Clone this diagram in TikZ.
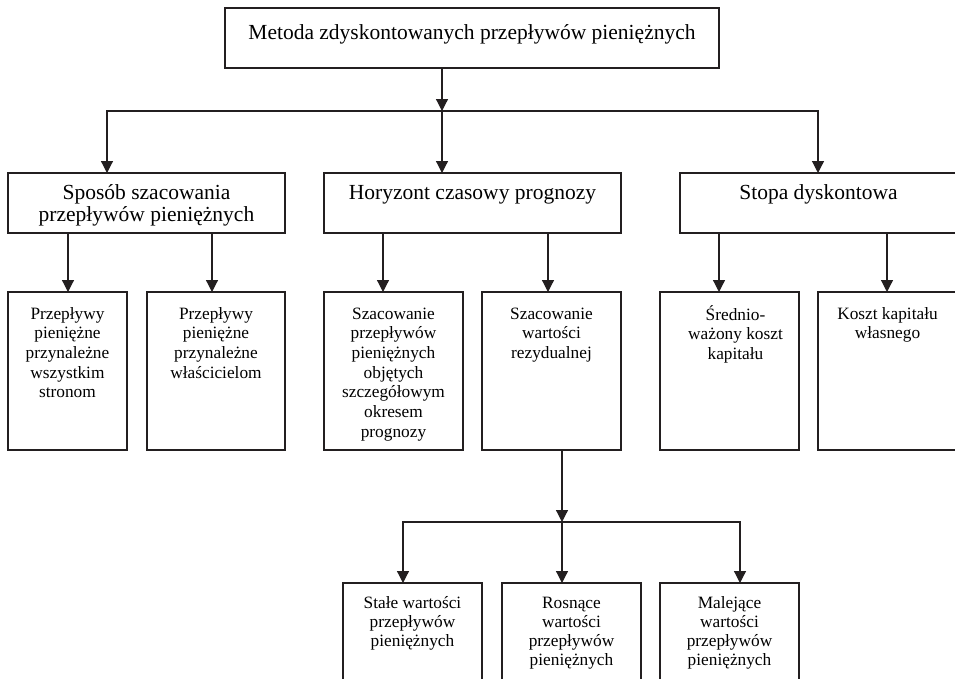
\documentclass[tikz,border=0pt]{standalone}
\usepackage{fontspec}
\setmainfont{Liberation Serif}
\usetikzlibrary{arrows.meta}
\newcommand{\fbig}{\fontsize{21.5}{22}\selectfont}
\newcommand{\fsmall}{\fontsize{17.3}{19.7}\selectfont}
\newcommand{\fsmaller}{\fontsize{17.3}{19.3}\selectfont}
% #1 width, #2 height, #3 first baseline offset, #4 font, #5 text
\newcommand{\bt}[5]{\parbox[c][#2pt][t]{#1pt}{#4\vspace*{\dimexpr #3pt-\ht\strutbox\relax}\centering\strut #5\par}}
\definecolor{ink}{HTML}{231F20}
\tikzset{
  bx/.style={draw=ink, line width=1.2pt, inner sep=0pt, outer sep=0pt, anchor=north west, text=black},
  ln/.style={draw=ink, line width=1.2pt, line join=miter},
  arr/.style={ln, -{Triangle[length=12pt,width=12pt]}},
}
\begin{document}
\begin{tikzpicture}[x=1pt, y=-1pt]
\useasboundingbox (0,0) rectangle (955,678);
% level 1
\node[bx] (top) at (225,8) {\bt{494}{60}{31}{\fbig}{Metoda zdyskontowanych przepływów pieniężnych}};
% level 2
\node[bx] (A) at (8,173) {\bt{277}{60}{26}{\fbig}{Sposób szacowania\\przepływów pieniężnych}};
\node[bx] (B) at (324,173) {\bt{297}{60}{26}{\fbig}{Horyzont czasowy prognozy}};
\node[bx] (C) at (680,173) {\bt{277}{60}{26}{\fbig}{Stopa dyskontowa}};
% level 3
\node[bx] (P1) at (8,292) {\bt{119}{158}{27}{\fsmall}{Przepływy\\pieniężne\\przynależne\\wszystkim\\stronom}};
\node[bx] (P2) at (147,292) {\bt{138}{158}{27}{\fsmall}{Przepływy\\pieniężne\\przynależne\\właścicielom}};
\node[bx] (P3) at (324,292) {\bt{139}{158}{27}{\fsmall}{Szacowanie\\przepływów\\pieniężnych\\objętych\\szczegółowym\\okresem\\prognozy}};
\node[bx] (P4) at (482,292) {\bt{139}{158}{27}{\fsmall}{Szacowanie\\wartości\\rezydualnej}};
\node[bx] (P5) at (660,292) {\bt{139}{158}{27}{\fsmall}{\hspace*{12pt}Średnio-\\\hspace*{12pt}ważony koszt\\\hspace*{12pt}kapitału}};
\node[bx] (P6) at (818,292) {\bt{139}{158}{27}{\fsmall}{Koszt kapitału\\własnego}};
% level 4
\node[bx] (R1) at (343,583) {\bt{139}{105}{25}{\fsmaller}{Stałe wartości\\przepływów\\pieniężnych}};
\node[bx] (R2) at (502,583) {\bt{139}{105}{25}{\fsmaller}{Rosnące\\wartości\\przepływów\\pieniężnych}};
\node[bx] (R3) at (660,583) {\bt{139}{105}{25}{\fsmaller}{Malejące\\wartości\\przepływów\\pieniężnych}};
% junctions
\coordinate (j0) at (442,111);
\coordinate (jl) at (107,111);
\coordinate (jr) at (818,111);
\coordinate (xa1) at (68,0);
\coordinate (xa2) at (212,0);
\coordinate (xb1) at (383,0);
\coordinate (xb2) at (548,0);
\coordinate (xc1) at (719,0);
\coordinate (xc2) at (887,0);
\coordinate (k0) at (562,522);
\coordinate (kl) at (403,522);
\coordinate (kr) at (740,522);
% connectors level 1 -> 2
\draw[arr] (top.south -| j0) -- (j0);
\draw[arr] (j0) -- (jl) -- (A.north -| jl);
\draw[arr] (j0) -- (jr) -- (C.north -| jr);
\draw[arr] (j0) -- (B.north -| j0);
% level 2 -> 3
\draw[arr] (A.south -| xa1) -- (P1.north -| xa1);
\draw[arr] (A.south -| xa2) -- (P2.north -| xa2);
\draw[arr] (B.south -| xb1) -- (P3.north -| xb1);
\draw[arr] (B.south -| xb2) -- (P4.north -| xb2);
\draw[arr] (C.south -| xc1) -- (P5.north -| xc1);
\draw[arr] (C.south -| xc2) -- (P6.north -| xc2);
% level 3 -> 4
\draw[arr] (P4.south -| k0) -- (k0);
\draw[arr] (k0) -- (kl) -- (R1.north -| kl);
\draw[arr] (k0) -- (kr) -- (R3.north -| kr);
\draw[arr] (k0) -- (R2.north -| k0);
\end{tikzpicture}
\end{document}
